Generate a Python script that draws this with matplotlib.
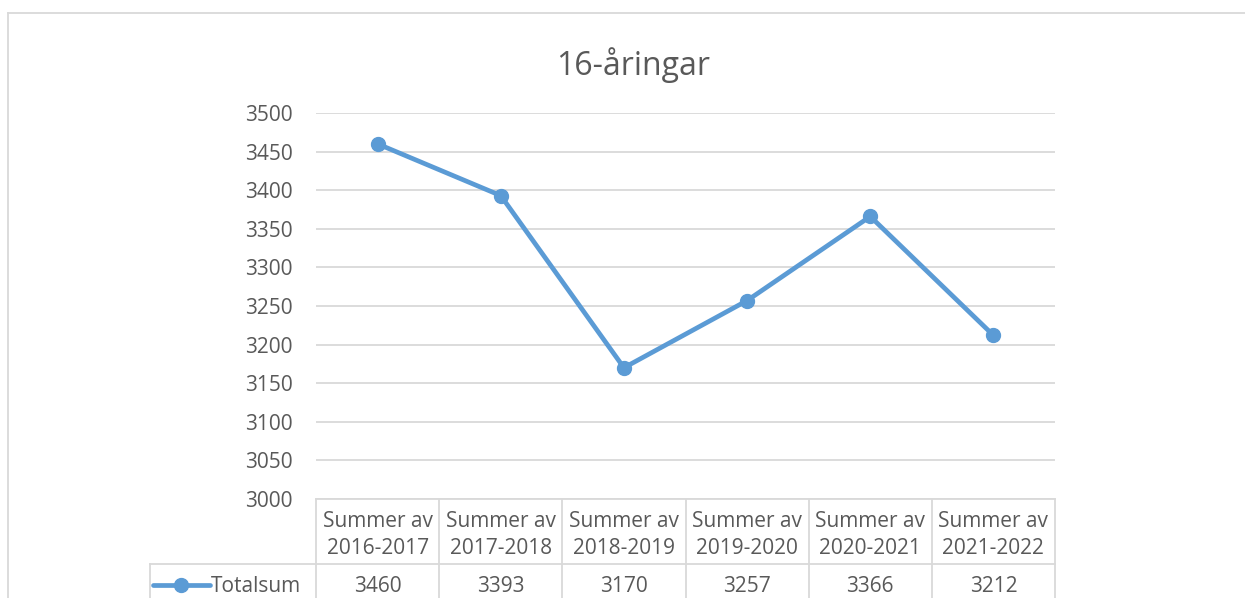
import matplotlib.pyplot as plt
from matplotlib.lines import Line2D
from matplotlib.transforms import blended_transform_factory

# data
title = "16-åringar"
series_name = "Totalsum"
categories = ["Summer av\n2016-2017", "Summer av\n2017-2018", "Summer av\n2018-2019",
              "Summer av\n2019-2020", "Summer av\n2020-2021", "Summer av\n2021-2022"]
totalsum = [3460, 3393, 3170, 3257, 3366, 3212]
y_ticks = list(range(3000, 3501, 50))

blue = '#5B9BD5'
text_c = '#595959'
grid_c = '#D9D9D9'

plt.rcParams['font.family'] = ['Open Sans', 'DejaVu Sans']

W, H = 1245, 598
fig = plt.figure(figsize=(W / 100, H / 100), dpi=100)


def fx(px):
    return px / W


def fy(py):
    return 1 - py / H


ax = fig.add_axes([fx(316), fy(499), fx(1055) - fx(316), fy(113) - fy(499)])
x = list(range(len(categories)))
ax.plot(x, totalsum, '-o', color=blue, lw=3.4, ms=10, solid_capstyle='round', zorder=3)
ax.set_xlim(-0.5, len(categories) - 0.5)
ax.set_ylim(y_ticks[0], y_ticks[-1])
ax.set_yticks(y_ticks)
ax.set_xticks([])
ax.grid(axis='y', color=grid_c, lw=1.3)
ax.set_axisbelow(True)
for s in ax.spines.values():
    s.set_visible(False)
ax.tick_params(axis='y', length=0, pad=17, labelsize=15, labelcolor=text_c)

fig.text(fx(633), fy(65), title, ha='center', va='center', fontsize=23, color=text_c)

# outer chart frame (only top and left visible in the crop)
fig.add_artist(Line2D([fx(8), 1.01], [fy(13), fy(13)], color=grid_c, lw=1.3))
fig.add_artist(Line2D([fx(8), fx(8)], [fy(13), -0.01], color=grid_c, lw=1.3))

# data table below the axis
tr = blended_transform_factory(ax.transData, fig.transFigure)
for i in range(len(categories) + 1):
    ax.add_line(Line2D([i - 0.5, i - 0.5], [fy(499), -0.01], transform=tr,
                       color=grid_c, lw=1.3, clip_on=False))
ax.add_line(Line2D([-0.5, len(categories) - 0.5], [fy(499), fy(499)], transform=tr,
                   color=grid_c, lw=1.3, clip_on=False))
fig.add_artist(Line2D([fx(150), fx(1055)], [fy(564), fy(564)], color=grid_c, lw=1.3))
fig.add_artist(Line2D([fx(150), fx(150)], [fy(564), -0.01], color=grid_c, lw=1.3))

for i, (cat, val) in enumerate(zip(categories, totalsum)):
    ax.text(i, fy(535), cat, transform=tr, ha='center', va='center',
            fontsize=15, color=text_c, linespacing=1.4, clip_on=False)
    ax.text(i, fy(586), str(val), transform=tr, ha='center', va='center',
            fontsize=15, color=text_c, clip_on=False)

# legend key in the table
fig.add_artist(Line2D([fx(153), fx(210)], [fy(585), fy(585)], color=blue, lw=3.4,
                      solid_capstyle='round'))
fig.add_artist(Line2D([fx(181)], [fy(585)], marker='o', ms=10, color=blue))
fig.text(fx(211), fy(586), series_name, ha='left', va='center', fontsize=15, color=text_c)

fig.savefig('out.png', dpi=100, facecolor='white')
